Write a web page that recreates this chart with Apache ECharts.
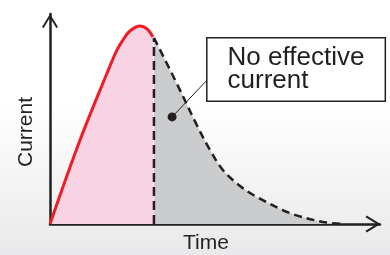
<!DOCTYPE html>
<html>
<head>
<meta charset="utf-8">
<script src="https://cdn.jsdelivr.net/npm/echarts@6/dist/echarts.min.js"></script>
<style>
  html, body { margin: 0; padding: 0; }
  #chart { width: 390px; height: 255px; }
</style>
</head>
<body>
<div id="chart"></div>
<script>
// curve values, in axis units (0..100 on both axes)
let riseCurve = [
  [0, 0], [9.1, 40], [17.3, 71.9], [20.3, 82.9],
  [22.1, 87.6], [24.2, 91.9], [27.3, 94.3], [29.4, 92.9], [31.2, 89]
];
let decayCurve = [
  [31.5, 88.6], [37.9, 68.6], [44.5, 47.1], [48.5, 35.2], [52.4, 25.7],
  [57.6, 18.1], [62.7, 12.9], [72.7, 5.2], [82.7, 1.0], [89.4, 0]
];
let cutLine = [[31.5, 0], [31.5, 88.6]];
let leader = [[37, 51], [48.2, 69.5]];
let calloutText = 'No effective\ncurrent';
let xName = 'Time';
let yName = 'Current';

let ink = '#231f20';
let font = 'Liberation Sans, Arial, sans-serif';
let chevron = 'path://M8,0 L16,13 L14.3,14 L8,3.6 L1.7,14 L0,13 Z';

let myChart = echarts.init(document.getElementById('chart'));

let option = {
  animation: false,
  backgroundColor: {
    type: 'linear', x: 0, y: 0, x2: 0, y2: 1,
    colorStops: [
      { offset: 0, color: '#ffffff' },
      { offset: 0.4, color: '#ffffff' },
      { offset: 1, color: '#e9e9eb' }
    ]
  },
  grid: { left: 50, right: 10, top: 14, bottom: 31, outerBoundsMode: 'none' },
  xAxis: {
    type: 'value', min: 0, max: 100,
    name: xName, nameLocation: 'middle', nameGap: 9,
    nameTextStyle: { fontSize: 21, color: ink, fontFamily: font, padding: [0, 18, 0, 0] },
    axisLine: { show: true, lineStyle: { color: ink, width: 2.5 },
      symbol: ['none', chevron], symbolSize: [17, 15], symbolOffset: [0, -7] },
    axisTick: { show: false }, axisLabel: { show: false }, splitLine: { show: false }
  },
  yAxis: {
    type: 'value', min: 0, max: 100,
    name: yName, nameLocation: 'middle', nameGap: 13, nameRotate: 90,
    nameTextStyle: { fontSize: 21, color: ink, fontFamily: font, padding: [0, 26, 0, 0] },
    axisLine: { show: true, lineStyle: { color: ink, width: 2.5 },
      symbol: ['none', chevron], symbolSize: [16, 14], symbolOffset: [0, -7] },
    axisTick: { show: false }, axisLabel: { show: false }, splitLine: { show: false }
  },
  series: [
    {
      type: 'line', data: riseCurve, smooth: 0.35, showSymbol: false,
      lineStyle: { color: '#ee1c25', width: 3 },
      areaStyle: { color: '#f7d3e3', opacity: 1 }, z: 2
    },
    {
      type: 'line', data: decayCurve, smooth: 0.35, showSymbol: false,
      lineStyle: { color: ink, width: 2.5, type: [8, 5] },
      areaStyle: { color: '#cbccce', opacity: 1 }, z: 2
    },
    {
      type: 'line', data: cutLine, showSymbol: false,
      lineStyle: { color: ink, width: 2.5, type: [9, 5] }, z: 3
    },
    {
      type: 'line', showSymbol: true, symbol: 'circle', z: 4,
      lineStyle: { color: ink, width: 1 },
      itemStyle: { color: ink },
      data: [
        { value: leader[0], symbolSize: 9 },
        {
          value: leader[1], symbolSize: 1,
          label: {
            show: true, position: [-1, -39],
            formatter: calloutText,
            fontSize: 26, lineHeight: 23, color: ink, fontFamily: font,
            backgroundColor: '#ffffff', borderColor: ink, borderWidth: 1.5,
            padding: [8, 10, 8, 20], width: 147, height: 46,
            align: 'left', verticalAlign: 'top'
          }
        }
      ]
    }
  ]
};

myChart.setOption(option);
</script>
</body>
</html>
